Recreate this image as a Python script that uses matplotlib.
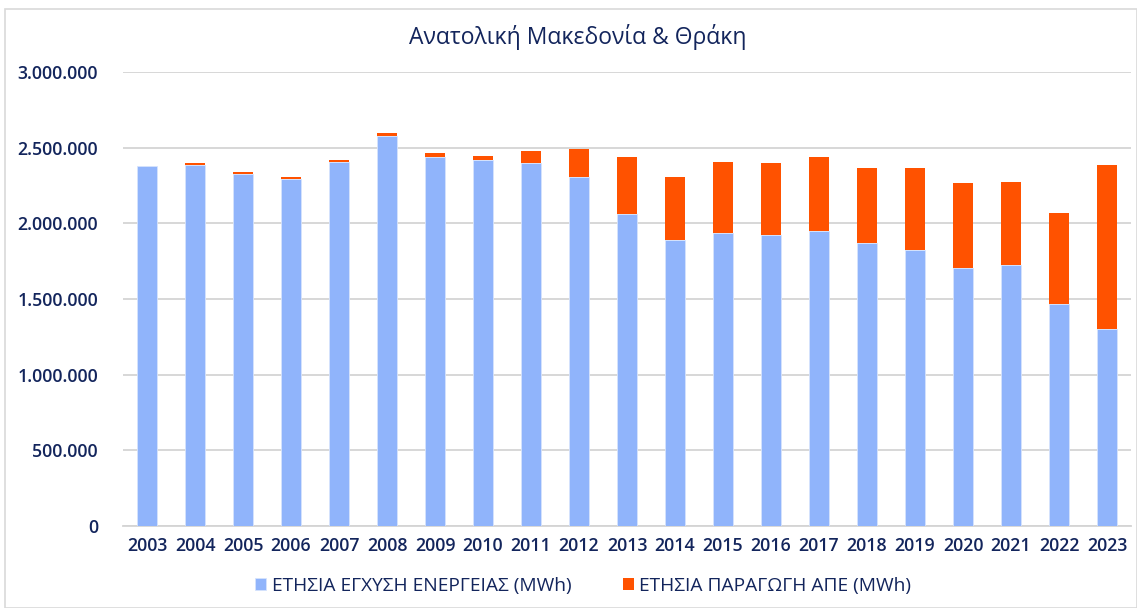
import matplotlib
matplotlib.use("Agg")
import matplotlib.pyplot as plt
from matplotlib.ticker import FuncFormatter
from matplotlib.patches import Rectangle

years = ["2003", "2004", "2005", "2006", "2007", "2008", "2009", "2010", "2011", "2012", "2013",
         "2014", "2015", "2016", "2017", "2018", "2019", "2020", "2021", "2022", "2023"]
injection = [2378000, 2386000, 2323000, 2292000, 2404000, 2578000, 2439000, 2419000, 2396000, 2305000,
             2061000, 1891000, 1935000, 1924000, 1950000, 1869000, 1825000, 1702000, 1724000, 1464000, 1301000]
res_production = [0, 10000, 13000, 13000, 13000, 22000, 27000, 27000, 83000, 185000,
                  378000, 414000, 471000, 476000, 489000, 494000, 542000, 562000, 548000, 603000, 1084000]
y_ticks = [0, 500000, 1000000, 1500000, 2000000, 2500000, 3000000]

title = "Ανατολική Μακεδονία & Θράκη"
label_inj = "ΕΤΗΣΙΑ ΕΓΧΥΣΗ ΕΝΕΡΓΕΙΑΣ (MWh)"
label_res = "ΕΤΗΣΙΑ ΠΑΡΑΓΩΓΗ ΑΠΕ (MWh)"

blue = "#90B4FB"
orange = "#FF5200"
navy = "#13255C"

plt.rcParams['font.family'] = ['Open Sans', 'DejaVu Sans']

fig = plt.figure(figsize=(11.37, 6.08), dpi=100)
fig.patches.append(Rectangle((5/1137, 0), 1 - 5/1137, 1 - 9/608, transform=fig.transFigure,
                             fill=False, edgecolor="#D9D9D9", linewidth=1.2))
ax = fig.add_axes([123/1137, 1 - 526/608, (1131 - 123)/1137, (526 - 72)/608])

x = list(range(len(years)))
ax.bar(x, injection, width=0.4, color=blue, edgecolor="#D6E3FD", linewidth=0.6, label=label_inj, zorder=3)
ax.bar(x, res_production, width=0.4, bottom=injection, color=orange, linewidth=0,
       label=label_res, zorder=3)

ax.set_xlim(-0.5, len(years) - 0.5)
ax.set_ylim(0, 3000000)
ax.set_yticks(y_ticks)
ax.yaxis.set_major_formatter(FuncFormatter(lambda v, p: f"{int(v):,}".replace(",", ".")))
ax.set_xticks(x)
ax.set_xticklabels(years)
ax.grid(axis="y", color="#D4D4D4", linewidth=1.3, zorder=0)
for s in ["top", "right", "left"]:
    ax.spines[s].set_visible(False)
ax.spines["bottom"].set_color("#D4D4D4")
ax.spines["bottom"].set_linewidth(1.3)
ax.tick_params(axis="both", length=0, labelcolor=navy, labelsize=12.8)
ax.tick_params(axis="y", pad=18)
ax.tick_params(axis="x", pad=8)
for lab in ax.get_xticklabels() + ax.get_yticklabels():
    lab.set_fontweight("semibold")

fig.text(0.508, 1 - 37/608, title, ha="center", va="center", fontsize=16.5, color=navy,
         fontweight="medium")

leg = fig.legend(loc="center", bbox_to_anchor=(0.513, 1 - 586/608), ncol=2, frameon=False,
                 fontsize=13.8, handlelength=0.55, handleheight=0.55, handletextpad=0.3,
                 columnspacing=2.7, labelcolor=navy)

fig.savefig("out.png", dpi=100)
